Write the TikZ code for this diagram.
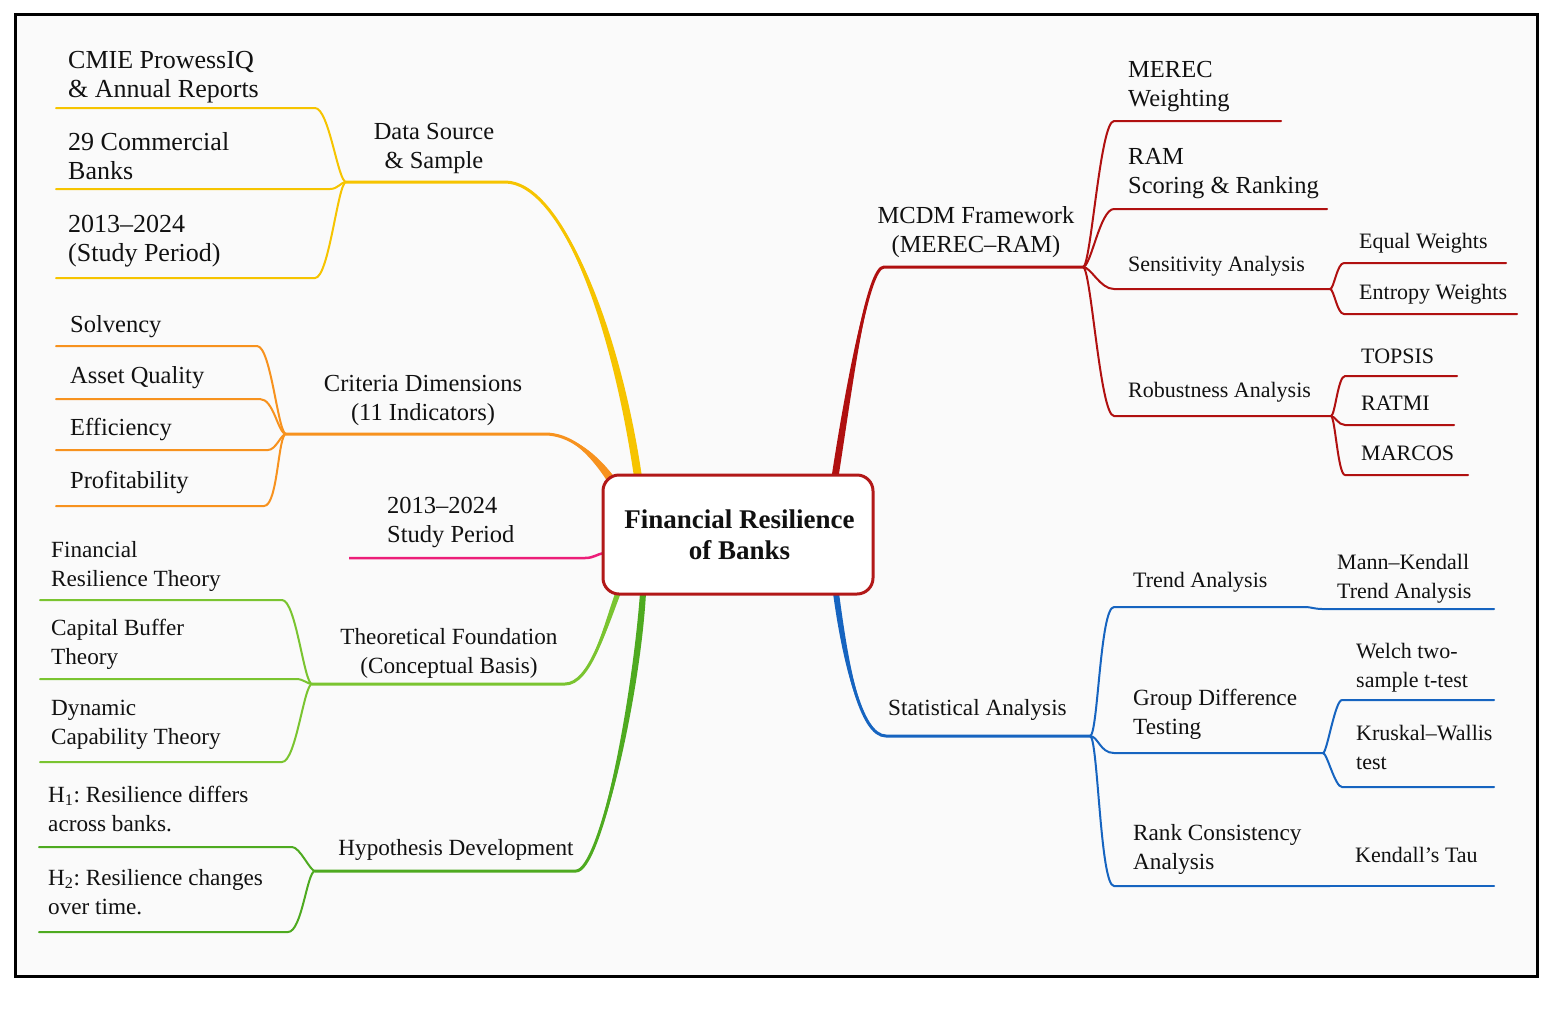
\documentclass[tikz,border=0pt]{standalone}
\usepackage{fontspec}
\setmainfont{Liberation Serif}
\usetikzlibrary{calc}
\definecolor{cyel}{RGB}{246,196,0}
\definecolor{corg}{RGB}{247,146,30}
\definecolor{cpink}{RGB}{236,30,121}
\definecolor{clgr}{RGB}{122,196,48}
\definecolor{cgrn}{RGB}{78,170,32}
\definecolor{cred}{RGB}{176,16,16}
\definecolor{cblu}{RGB}{22,100,192}
\definecolor{rootred}{RGB}{178,24,24}
\definecolor{bgc}{RGB}{250,250,250}
\definecolor{ink}{RGB}{17,17,17}
\newcommand\blk[2]{\begin{tabular}[t]{@{}#1@{}}#2\end{tabular}}
\frenchspacing
\begin{document}
\begin{tikzpicture}[x=1pt,y=-1pt,
  tA/.style={font=\fontsize{26}{29.5}\selectfont},
  tB/.style={font=\fontsize{24.5}{29}\selectfont},
  tC/.style={font=\fontsize{23.2}{29}\selectfont},
  tD/.style={font=\fontsize{22}{29}\selectfont},
  txt/.style={inner sep=0pt, anchor=base west, text=ink},
  ctxt/.style={inner sep=0pt, anchor=base, text=ink},
  twig/.style={line width=2pt, line cap=round},
  limb/.style={line width=3pt, line cap=round},
  lbr/.style={out=180,in=0,out distance=8pt,in distance=14pt},
  lbrs/.style={out=180,in=0,out distance=5pt,in distance=8pt},
  rbr/.style={out=0,in=180,out distance=8pt,in distance=14pt},
  rbrs/.style={out=0,in=180,out distance=4pt,in distance=7pt},
]
\useasboundingbox (0,0) rectangle (1552,1013);
\fill[white] (0,0) rectangle (1552,1013);
\draw[line width=3pt, fill=bgc] (15,14) rectangle (1537,976);

% ---------- yellow: Data Source & Sample
\coordinate (yA) at (638,477); \coordinate (yB) at (505,182); \coordinate (yJ) at (346,182);
\fill[cyel] ($(yA)+(-4,0)$) .. controls (611,320) and (560,182) .. (yB) .. controls (560,182) and (619,320) .. ($(yA)+(4,0)$) -- cycle;
\draw[cyel,limb] (yA) .. controls (615,320) and (560,182) .. (yB) -- (yJ);
\coordinate (y1s) at (315,108); \coordinate (y1e) at (56,108);
\coordinate (y2s) at (330,189); \coordinate (y2e) at (56,189);
\coordinate (y3s) at (315,278); \coordinate (y3e) at (56,278);
\draw[cyel,twig] (yJ) to[lbr] (y1s) -- (y1e);
\draw[cyel,twig] (yJ) to[lbrs] (y2s) -- (y2e);
\draw[cyel,twig] (yJ) to[lbr] (y3s) -- (y3e);

% ---------- orange: Criteria Dimensions
\coordinate (oA) at (610,478); \coordinate (oB) at (545,434); \coordinate (oJ) at (286,434);
\fill[corg] ($(oA)+(-3.3,2.3)$) .. controls (588,452) and (568,434) .. (oB) .. controls (568,434) and (592,448) .. ($(oA)+(3.3,-2.3)$) -- cycle;
\draw[corg,limb] (oA) .. controls (590,450) and (568,434) .. (oB) -- (oJ);
\coordinate (o1s) at (257,346); \coordinate (o1e) at (56,346);
\coordinate (o2s) at (260,399); \coordinate (o2e) at (56,399);
\coordinate (o3s) at (268,450); \coordinate (o3e) at (56,450);
\coordinate (o4s) at (264,506); \coordinate (o4e) at (56,506);
\draw[corg,twig] (oJ) to[lbr] (o1s) -- (o1e);
\draw[corg,twig] (oJ) to[lbr] (o2s) -- (o2e);
\draw[corg,twig] (oJ) to[lbrs] (o3s) -- (o3e);
\draw[corg,twig] (oJ) to[lbr] (o4s) -- (o4e);

% ---------- pink: Study period
\coordinate (pA) at (604,553); \coordinate (pB) at (585,558); \coordinate (pE) at (349,558);
\draw[cpink,line width=2.5pt] (pE) -- (pB) .. controls (594,558) and (597,554) .. (pA);

% ---------- light green: Theoretical Foundation
\coordinate (lA) at (618,593); \coordinate (lB) at (565,684); \coordinate (lJ) at (312,684);
\fill[clgr] ($(lA)+(-2.5,-1)$) .. controls (603,627) and (590,684) .. (lB) .. controls (590,684) and (607,629) .. ($(lA)+(2.5,1)$) -- cycle;
\draw[clgr,limb] (lA) .. controls (605,628) and (590,684) .. (lB) -- (lJ);
\coordinate (l1s) at (282,600); \coordinate (l1e) at (40,600);
\coordinate (l2s) at (296,679); \coordinate (l2e) at (40,679);
\coordinate (l3s) at (282,762); \coordinate (l3e) at (40,762);
\draw[clgr,twig] (lJ) to[lbr] (l1s) -- (l1e);
\draw[clgr,twig] (lJ) to[lbrs] (l2s) -- (l2e);
\draw[clgr,twig] (lJ) to[lbr] (l3s) -- (l3e);

% ---------- green: Hypothesis Development
\coordinate (gA) at (643,593); \coordinate (gB) at (576,871); \coordinate (gJ) at (315,871);
\fill[cgrn] ($(gA)+(-3,0)$) .. controls (632,700) and (600,870) .. (gB) .. controls (600,872) and (640,700) .. ($(gA)+(3,0)$) -- cycle;
\draw[cgrn,limb] (gA) .. controls (636,700) and (600,871) .. (gB) -- (gJ);
\coordinate (g1s) at (292,847); \coordinate (g1e) at (39,847);
\coordinate (g2s) at (288,932); \coordinate (g2e) at (39,932);
\draw[cgrn,twig] (gJ) to[lbrs] (g1s) -- (g1e);
\draw[cgrn,twig] (gJ) to[lbr] (g2s) -- (g2e);

% ---------- red: MCDM Framework
\coordinate (rA) at (835,477); \coordinate (rB) at (884,267); \coordinate (rJ) at (1083,267);
\fill[cred] ($(rA)+(-3.5,0)$) .. controls (846.5,380) and (868,267) .. (rB) .. controls (868,267) and (853.5,380) .. ($(rA)+(3.5,0)$) -- cycle;
\draw[cred,limb] (rA) .. controls (850,380) and (868,267) .. (rB) -- (rJ);
\coordinate (r1s) at (1114,121); \coordinate (r1e) at (1281,121);
\coordinate (r2s) at (1114,209); \coordinate (r2e) at (1327,209);
\coordinate (r3s) at (1114,289); \coordinate (r3e) at (1330,289);
\coordinate (r4s) at (1114,416); \coordinate (r4e) at (1331,416);
\draw[cred,twig] (rJ) to[rbr] (r1s) -- (r1e);
\draw[cred,twig] (rJ) to[rbr] (r2s) -- (r2e);
\draw[cred,twig] (rJ) to[rbr] (r3s) -- (r3e);
\draw[cred,twig] (rJ) to[rbr] (r4s) -- (r4e);
\coordinate (r31s) at (1344,263); \coordinate (r31e) at (1506,263);
\coordinate (r32s) at (1344,314); \coordinate (r32e) at (1517,314);
\draw[cred,twig] (r3e) to[rbrs] (r31s) -- (r31e);
\draw[cred,twig] (r3e) to[rbrs] (r32s) -- (r32e);
\coordinate (r41s) at (1345,376); \coordinate (r41e) at (1457,376);
\coordinate (r42s) at (1345,425); \coordinate (r42e) at (1454,425);
\coordinate (r43s) at (1345,475); \coordinate (r43e) at (1468,475);
\draw[cred,twig] (r4e) to[rbrs] (r41s) -- (r41e);
\draw[cred,twig] (r4e) to[rbrs] (r42s) -- (r42e);
\draw[cred,twig] (r4e) to[rbrs] (r43s) -- (r43e);

% ---------- blue: Statistical Analysis
\coordinate (bA) at (836,593); \coordinate (bB) at (886,736); \coordinate (bJ) at (1090,736);
\fill[cblu] ($(bA)+(-3,0)$) .. controls (842,660) and (860,736) .. (bB) .. controls (860,736) and (848,660) .. ($(bA)+(3,0)$) -- cycle;
\draw[cblu,limb] (bA) .. controls (845,660) and (860,736) .. (bB) -- (bJ);
\coordinate (b1s) at (1114,607); \coordinate (b1e) at (1306,607);
\coordinate (b2s) at (1114,753); \coordinate (b2e) at (1323,753);
\coordinate (b3s) at (1114,886); \coordinate (b3e) at (1330,886);
\draw[cblu,twig] (bJ) to[rbr] (b1s) -- (b1e);
\draw[cblu,twig] (bJ) to[rbr] (b2s) -- (b2e);
\draw[cblu,twig] (bJ) to[rbr] (b3s) -- (b3e);
\coordinate (b11s) at (1322,609); \coordinate (b11e) at (1494,609);
\draw[cblu,twig] (b1e) to[rbrs] (b11s) -- (b11e);
\coordinate (b21s) at (1342,700); \coordinate (b21e) at (1494,700);
\coordinate (b22s) at (1342,787); \coordinate (b22e) at (1494,787);
\draw[cblu,twig] (b2e) to[rbrs] (b21s) -- (b21e);
\draw[cblu,twig] (b2e) to[rbrs] (b22s) -- (b22e);
\coordinate (b31e) at (1494,886);
\draw[cblu,twig] (b3e) -- (b31e);

% ---------- root
\node[draw=rootred, line width=3pt, rounded corners=16pt, fill=white,
      minimum width=270pt, minimum height=119pt, inner sep=0pt] (root) at (738,534.5) {};
\node[ctxt, font=\bfseries\fontsize{27}{31}\selectfont] (roottxt) at (739.5,528) {\blk{c}{Financial Resilience\\of Banks}};

% ---------- left texts
\node[ctxt,tB] (tds) at (434,139) {\blk{c}{Data Source\\\& Sample}};
\node[txt,tA] (t11) at (68,68) {\blk{l}{CMIE ProwessIQ\\\& Annual Reports}};
\node[txt,tA] (t12) at (68,150) {\blk{l}{29 Commercial\\Banks}};
\node[txt,tA] (t13) at (68,232) {\blk{l}{2013–2024\\(Study Period)}};

\node[ctxt,tB] (tcd) at (423,391) {\blk{c}{Criteria Dimensions\\(11 Indicators)}};
\node[txt,tB] (t21) at (70,332) {Solvency};
\node[txt,tB] (t22) at (70,383) {Asset Quality};
\node[txt,tB] (t23) at (70,435) {Efficiency};
\node[txt,tB] (t24) at (70,488) {Profitability};

\node[txt,tB] (tsp) at (387,513) {\blk{l}{2013–2024\\Study Period}};

\node[ctxt,tC] (ttf) at (449,644) {\blk{c}{Theoretical Foundation\\(Conceptual Basis)}};
\node[txt,tC] (t31) at (51,557) {\blk{l}{Financial\\Resilience Theory}};
\node[txt,tC] (t32) at (51,635) {\blk{l}{Capital Buffer\\Theory}};
\node[txt,tC] (t33) at (51,715) {\blk{l}{Dynamic\\Capability Theory}};

\node[ctxt,tC] (thd) at (456,855) {Hypothesis Development};
\node[txt,tC] (t41) at (48,802) {\blk{l}{H\textsubscript{1}: Resilience differs\\across banks.}};
\node[txt,tC] (t42) at (48,885) {\blk{l}{H\textsubscript{2}: Resilience changes\\over time.}};

% ---------- right texts
\node[ctxt,tB] (tmc) at (976,223) {\blk{c}{MCDM Framework\\(MEREC–RAM)}};
\node[txt,tB] (t51) at (1128,77) {\blk{l}{MEREC\\Weighting}};
\node[txt,tB] (t52) at (1128,164) {\blk{l}{RAM\\Scoring \& Ranking}};
\node[txt,tD] (t53) at (1128,271) {Sensitivity Analysis};
\node[txt,tD] (t54) at (1128,397) {Robustness Analysis};
\node[txt,tD] (t531) at (1359,248) {Equal Weights};
\node[txt,tD] (t532) at (1359,299) {Entropy Weights};
\node[txt,tD] (t541) at (1361,363) {TOPSIS};
\node[txt,tD] (t542) at (1361,410) {RATMI};
\node[txt,tD] (t543) at (1361,460) {MARCOS};

\node[txt,tC] (tst) at (888,715) {Statistical Analysis};
\node[txt,tD] (t61) at (1133,587) {Trend Analysis};
\node[txt,tC] (t62) at (1133,705) {\blk{l}{Group Difference\\Testing}};
\node[txt,tC] (t63) at (1133,840) {\blk{l}{Rank Consistency\\Analysis}};
\node[txt,tD] (t611) at (1337,569) {\blk{l}{Mann–Kendall\\Trend Analysis}};
\node[txt,tD] (t621) at (1356,658) {\blk{l}{Welch two-\\sample t-test}};
\node[txt,tD] (t622) at (1356,740) {\blk{l}{Kruskal–Wallis\\test}};
\node[txt,tD] (t631) at (1355,862) {Kendall’s Tau};
\end{tikzpicture}
\end{document}
